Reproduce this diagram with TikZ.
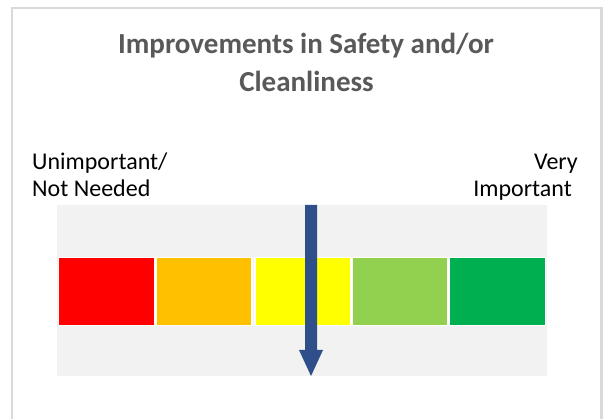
\documentclass[tikz,border=0pt]{standalone}
\usepackage{fontspec}
\setmainfont{Carlito}
\definecolor{frame}{HTML}{D9D9D9}
\definecolor{titlegray}{HTML}{595959}
\definecolor{band}{HTML}{F2F2F2}
\definecolor{cred}{HTML}{FF0000}
\definecolor{corange}{HTML}{FFC000}
\definecolor{cyellow}{HTML}{FFFF00}
\definecolor{clgreen}{HTML}{92D050}
\definecolor{cgreen}{HTML}{00B050}
\definecolor{arrowblue}{HTML}{2F4F8A}
\tikzset{
  titletext/.style={font=\fontsize{29}{30}\selectfont\bfseries, text=titlegray, inner sep=0pt},
  labeltext/.style={font=\fontsize{24}{26}\selectfont, text=black, inner sep=0pt},
  scalebox/.style={draw=white, line width=1.5pt, minimum width=96pt, minimum height=68pt, inner sep=0pt}
}
\begin{document}
\begin{tikzpicture}[x=1pt,y=-1pt]
\useasboundingbox (0,0) rectangle (603,419);
\fill[white] (0,0) rectangle (603,419);
% outer frame
\draw[frame, line width=2.5pt] (12,420) -- (12,8) -- (601.5,8) -- (601.5,420);
% title
\node[titletext, anchor=base] (t1) at (306,54) {Improvements in Safety and/or};
\node[titletext, anchor=base] (t2) at (306.5,92) {Cleanliness};
% end labels
\node[labeltext, anchor=base west] (l1) at (32,169.5) {Unimportant/};
\node[labeltext, anchor=base west] (l2) at (32,196.5) {Not Needed};
\node[labeltext, anchor=base east] (r1) at (578,169.5) {Very};
\node[labeltext, anchor=base east] (r2) at (572,196.5) {Important};
% background band
\fill[band] (57,205) rectangle (547,376);
% colour scale
\node[scalebox, fill=cred, anchor=north west] (c1) at (57.5,257) {};
\node[scalebox, fill=corange, anchor=north west] (c2) at (155,257) {};
\node[scalebox, fill=cyellow, anchor=north west] (c3) at (254,257) {};
\node[scalebox, fill=clgreen, anchor=north west] (c4) at (351,257) {};
\node[scalebox, fill=cgreen, anchor=north west] (c5) at (448.5,257) {};
% arrow
\coordinate (atop) at (311,205);
\coordinate (atip) at (311,376);
\fill[arrowblue] (305,205) -- (317,205) -- (317,350) -- (323,350) -- (atip) -- (299,350) -- (305,350) -- cycle;
\end{tikzpicture}
\end{document}
